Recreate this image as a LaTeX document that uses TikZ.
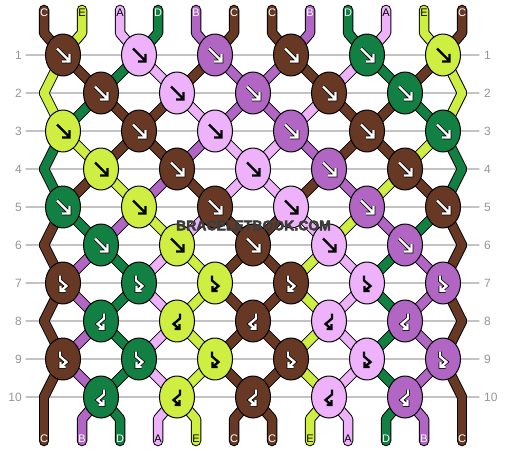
\documentclass[tikz,border=0pt]{standalone}
\usepackage{fontspec}
\setmainfont{Liberation Sans}
\usetikzlibrary{shapes.geometric}
\definecolor{cC}{RGB}{103,57,37}
\definecolor{cE}{RGB}{206,238,66}
\definecolor{cA}{RGB}{238,178,250}
\definecolor{cD}{RGB}{17,128,66}
\definecolor{cB}{RGB}{176,102,194}
\colorlet{acC}{white}\colorlet{acD}{white}\colorlet{acB}{white}
\colorlet{acE}{black}\colorlet{acA}{black}
\colorlet{ocC}{black}\colorlet{ocD}{black}\colorlet{ocB}{black}
\colorlet{ocE}{cE}\colorlet{ocA}{cA}
\definecolor{gridgray}{RGB}{195,195,195}
\definecolor{numgray}{RGB}{150,150,150}
\definecolor{wmgray}{RGB}{60,60,60}

\newcommand\getpt[2]{%
  \ifnum#1=0\relax
    \pgfmathsetmacro\PX{44+38*(#2-1)}\def\PY{33}%
  \else\ifnum#1=11\relax
    \pgfmathsetmacro\PX{44+38*(#2-1)}\def\PY{419}%
  \else
    \pgfmathsetmacro\PY{55+38*(#1-1)}%
    \ifodd#1\relax
      \pgfmathsetmacro\PX{63+76*floor((#2-1)/2)}%
    \else
      \ifnum#2=1\relax \def\PX{44}%
      \else\ifnum#2=12\relax \def\PX{462}%
      \else \pgfmathsetmacro\PX{101+76*(floor(#2/2)-1)}%
      \fi\fi
    \fi
  \fi\fi}

\def\bands{0/{C,E,A,D,B,C,C,B,D,A,E,C},1/{E,C,D,A,C,B,B,C,A,D,C,E},2/{E,D,C,C,A,B,B,A,C,C,D,E},3/{D,E,C,C,B,A,A,B,C,C,E,D},4/{D,C,E,B,C,A,A,C,B,E,C,D},5/{C,D,B,E,A,C,C,A,E,B,D,C},6/{C,B,D,A,E,C,C,E,A,D,B,C},7/{C,B,D,A,E,C,C,E,A,D,B,C},8/{C,B,D,A,E,C,C,E,A,D,B,C},9/{C,B,D,A,E,C,C,E,A,D,B,C},10/{C,B,D,A,E,C,C,E,A,D,B,C}}

\def\knotrows{1/{C,A,B,C,D,E}/0,2/{C,A,B,C,D}/0,3/{E,C,A,B,C,D}/0,4/{E,C,A,B,C}/0,5/{D,E,C,A,B,C}/0,6/{D,E,C,A,B}/0,7/{C,D,E,C,A,B}/1,8/{D,E,C,A,B}/2,9/{C,D,E,C,A,B}/1,10/{D,E,C,A,B}/2}

\newcommand\threadpass[1]{%
 \foreach \r/\cols in \bands {%
  \foreach \c [count=\i] in \cols {%
    \getpt{\r}{\i}\let\xa\PX\let\ya\PY
    \pgfmathtruncatemacro\rn{\r+1}%
    \getpt{\rn}{\i}\let\xb\PX\let\yb\PY
    \ifnum\r=0\relax \def\ys{10}\else\let\ys\ya\fi
    \ifnum\rn=11\relax \def\ye{441}\else\let\ye\yb\fi
    \ifnum#1=0\relax \colorlet{tc}{black}\def\lw{10.5}\else\colorlet{tc}{c\c}\def\lw{8.5}\fi
    \draw[line width=\lw pt, tc] (\xa,\ys) -- (\xa,\ya) -- (\xb,\yb) -- (\xb,\ye);
  }}}

\newcommand\glyphline[2]{\draw[line width=3.8pt, oc#1] #2; \draw[line width=2.3pt, ac#1] #2;}
\newcommand\drawglyph[4]{%
  \begin{scope}[shift={(#2,#3)}, line cap=butt, line join=miter]
  \ifcase#1\relax
    \glyphline{#4}{(-6,-6.5) -- (5.5,5) (6.5,-1) -- (6.5,6.5) -- (-1,6.5)}%
  \or
    \glyphline{#4}{(-3,-7.5) -- (-3,-2.5) -- (3.5,3) -- (-2.5,8) (-2.5,3) -- (-2.5,8) -- (2.5,8)}%
  \or
    \glyphline{#4}{(3,-7.5) -- (3,-2.5) -- (-3.5,3) -- (2.5,8) (2.5,3) -- (2.5,8) -- (-2.5,8)}%
  \fi
  \end{scope}}

\tikzset{
  gridline/.style={draw=gridgray, line width=1.2pt},
  numlbl/.style={text=numgray, font=\fontsize{12}{14}\selectfont, inner sep=0pt},
  strlbl/.style={font=\fontsize{11}{13}\selectfont, inner sep=0pt},
  knot/.style={ellipse, draw=black, line width=1pt, minimum width=35pt, minimum height=42pt, inner sep=0pt},
  wmstyle/.style={font=\bfseries\fontsize{14}{16}\selectfont, inner sep=0pt}
}

\begin{document}
\begin{tikzpicture}[x=1pt,y=-1pt, line cap=round, line join=round]
\useasboundingbox (0,0) rectangle (506,452);
\fill[white] (0,0) rectangle (506,452);

% row lines and numbers
\foreach \r in {1,...,10}{
  \pgfmathsetmacro\yy{55+38*(\r-1)}
  \draw[gridline] (26,\yy) -- (479,\yy);
  \node[numlbl, anchor=east] (L\r) at (22,\yy) {\r};
  \node[numlbl, anchor=west] (R\r) at (484,\yy) {\r};
}

% threads: outlines then colours
\threadpass{0}
\threadpass{1}

% string labels
\foreach \c [count=\i] in {C,E,A,D,B,C,C,B,D,A,E,C}{
  \pgfmathsetmacro\xx{44+38*(\i-1)}
  \node[strlbl, text=ac\c] (T\i) at (\xx,13) {\c};
}
\foreach \c [count=\i] in {C,B,D,A,E,C,C,E,A,D,B,C}{
  \pgfmathsetmacro\xx{44+38*(\i-1)}
  \node[strlbl, text=ac\c] (B\i) at (\xx,439) {\c};
}

% knots
\foreach \r/\cols/\g in \knotrows {
  \pgfmathsetmacro\yy{55+38*(\r-1)}
  \ifodd\r\relax\def\xo{63}\else\def\xo{101}\fi
  \foreach \c [count=\k] in \cols {
    \pgfmathsetmacro\xx{\xo+76*(\k-1)}
    \node[knot, fill=c\c] (K\r-\k) at (\xx,\yy) {};
    \drawglyph{\g}{\xx}{\yy}{\c}
  }
}

% watermark: dark, slightly emboldened text (fill + stroke)
\node[wmstyle, text=wmgray] (wm) at (253.5,225.5)
  {\special{pdf:literal direct 2 Tr 0.24 0.24 0.24 RG 0.5 w}BRACELETBOOK.COM\special{pdf:literal direct 0 Tr}};
\end{tikzpicture}
\end{document}
